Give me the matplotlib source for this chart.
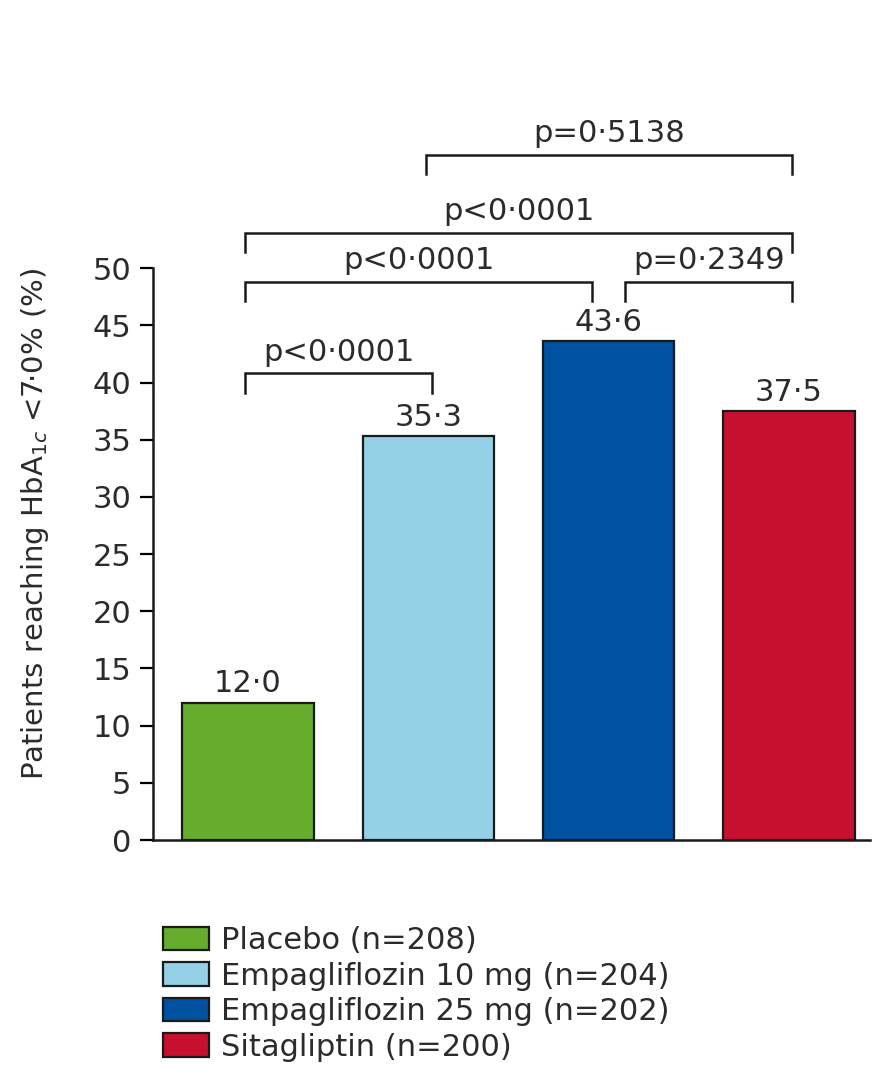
import matplotlib
matplotlib.use("Agg")
import matplotlib.pyplot as plt
from matplotlib.patches import Patch

plt.rcParams['font.family'] = ['DejaVu Sans']
plt.rcParams['mathtext.fontset'] = 'dejavusans'

groups = ['Placebo (n=208)', 'Empagliflozin 10 mg (n=204)',
          'Empagliflozin 25 mg (n=202)', 'Sitagliptin (n=200)']
responders = [12.0, 35.3, 43.6, 37.5]
value_text = ['12·0', '35·3', '43·6', '37·5']
colors = ['#66ad2e', '#94d0e6', '#0052a1', '#c70f2f']

# pairwise comparisons: (group a, group b, p-value text)
comparisons = [(0, 1, 'p<0·0001'),
               (0, 2, 'p<0·0001'),
               (2, 3, 'p=0·2349'),
               (0, 3, 'p<0·0001'),
               (1, 3, 'p=0·5138')]
bracket_y = [40.8, 48.8, 48.8, 53.1, 59.9]

ink = '#2b2b2b'
fs = 22
fig = plt.figure(figsize=(8.77, 10.86), dpi=100)
ax = fig.add_axes([0.1745, 0.2265, 0.8175, 0.674])

x = range(len(responders))
ax.bar(x, responders, width=0.73, color=colors, edgecolor='#1a1a1a', linewidth=1.6)
for i, v in enumerate(responders):
    ax.text(i, v + 0.4, value_text[i], ha='center', va='bottom', fontsize=fs, color=ink)

# brackets sharing the middle bar are pulled apart a little
for (a, b, label), y in zip(comparisons, bracket_y):
    xa, xb = a - 0.015, b + 0.02
    if b == 2:
        xb = b - 0.09
    if a == 2:
        xa = a + 0.09
    ax.plot([xa, xa, xb, xb], [y - 1.7, y, y, y - 1.7], color='#1a1a1a', lw=1.8,
            solid_joinstyle='miter', clip_on=False)
    ax.text((xa + xb) / 2, y + 0.6, label, ha='center', va='bottom', fontsize=fs, color=ink)

ax.set_xlim(-0.527, 3.45)
ax.set_ylim(0, 64)
ax.set_yticks(range(0, 51, 5))
ax.set_xticks([])
ax.spines['top'].set_visible(False)
ax.spines['right'].set_visible(False)
ax.spines['left'].set_bounds(0, 50)
for s in ('left', 'bottom'):
    ax.spines[s].set_linewidth(1.8)
    ax.spines[s].set_color('#1a1a1a')
ax.tick_params(axis='y', length=9.5, width=1.6, pad=6, labelsize=fs, labelcolor=ink)

fig.text(0.04, 0.518, 'Patients reaching HbA$_{1c}$ <7·0% (%)', rotation=90,
         ha='center', va='center', fontsize=21, color=ink)

handles = [Patch(facecolor=c, edgecolor='#1a1a1a', linewidth=1.6) for c in colors]
fig.legend(handles, groups, loc='upper left', bbox_to_anchor=(0.186, 0.147),
           frameon=False, fontsize=fs, handlelength=1.5, handleheight=0.8,
           handletextpad=0.4, labelspacing=0.21, borderpad=0, labelcolor=ink,
           borderaxespad=0)

fig.savefig('out.png', dpi=100)
